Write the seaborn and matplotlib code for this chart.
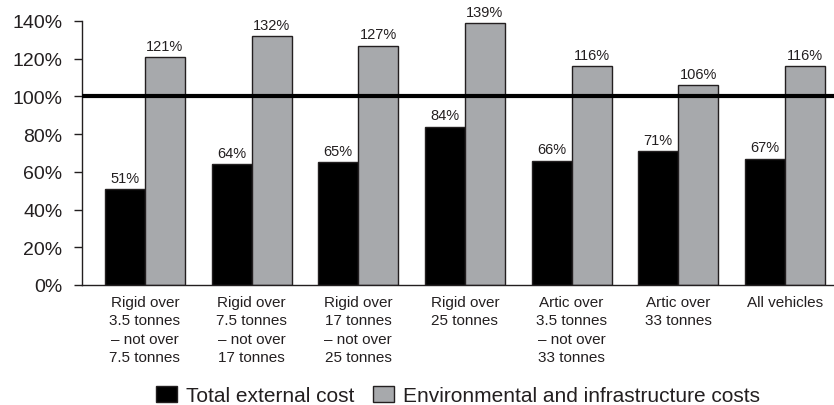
import matplotlib
matplotlib.use("Agg")
import matplotlib.pyplot as plt
import seaborn as sns
import pandas as pd

categories = [
    "Rigid over\n3.5 tonnes\n\u2013 not over\n7.5 tonnes",
    "Rigid over\n7.5 tonnes\n\u2013 not over\n17 tonnes",
    "Rigid over\n17 tonnes\n\u2013 not over\n25 tonnes",
    "Rigid over\n25 tonnes",
    "Artic over\n3.5 tonnes\n\u2013 not over\n33 tonnes",
    "Artic over\n33 tonnes",
    "All vehicles",
]
series_names = ["Total external cost", "Environmental and infrastructure costs"]
total_external = [51, 64, 65, 84, 66, 71, 67]
env_infra = [121, 132, 127, 139, 116, 106, 116]
y_ticks = [0, 20, 40, 60, 80, 100, 120, 140]

df = pd.DataFrame({
    "category": categories * 2,
    "series": [series_names[0]] * len(categories) + [series_names[1]] * len(categories),
    "value": total_external + env_infra,
})

sns.set_style("white")
plt.rcParams["font.family"] = ["Liberation Sans", "DejaVu Sans"]
text_color = "#231f20"

fig = plt.figure(figsize=(8.34, 4.06), dpi=100)
ax = fig.add_axes([82 / 834, 1 - 286 / 406, (834 - 82) / 834, 264 / 406])

palette = {series_names[0]: "#000000", series_names[1]: "#a7a9ac"}
sns.barplot(
    data=df, x="category", y="value", hue="series", order=categories,
    hue_order=series_names, palette=palette, width=0.75, gap=0,
    edgecolor="#231f20", linewidth=1, saturation=1, ax=ax, legend=True,
)

for container in ax.containers:
    ax.bar_label(container, labels=[f"{v:.0f}%" for v in container.datavalues],
                 padding=3, fontsize=10.5, color=text_color)

# reference level at 100%
ax.axhline(100, color="#000000", linewidth=3, zorder=5)

ax.set_xlim(-0.59, 6.46)
ax.set_ylim(0, 140)
ax.set_yticks(y_ticks)
ax.set_yticklabels([f"{t}%" for t in y_ticks])
ax.set_xlabel("")
ax.set_ylabel("")

ax.tick_params(axis="y", length=6, width=1, color=text_color, pad=8,
               labelsize=14, labelcolor=text_color, left=True)
ax.tick_params(axis="x", length=0, pad=7, labelsize=11, labelcolor=text_color)
for lbl in ax.get_xticklabels():
    lbl.set_linespacing(1.4)

sns.despine(ax=ax, top=True, right=True)
for side in ("left", "bottom"):
    ax.spines[side].set_color(text_color)
    ax.spines[side].set_linewidth(1)

ax.legend(
    loc="center", bbox_to_anchor=(0.5, -0.42), ncol=2, frameon=False,
    fontsize=15, handlelength=1.0, handleheight=0.75, handletextpad=0.45,
    columnspacing=0.9, labelcolor=text_color,
)

fig.savefig("out.png", dpi=100)
